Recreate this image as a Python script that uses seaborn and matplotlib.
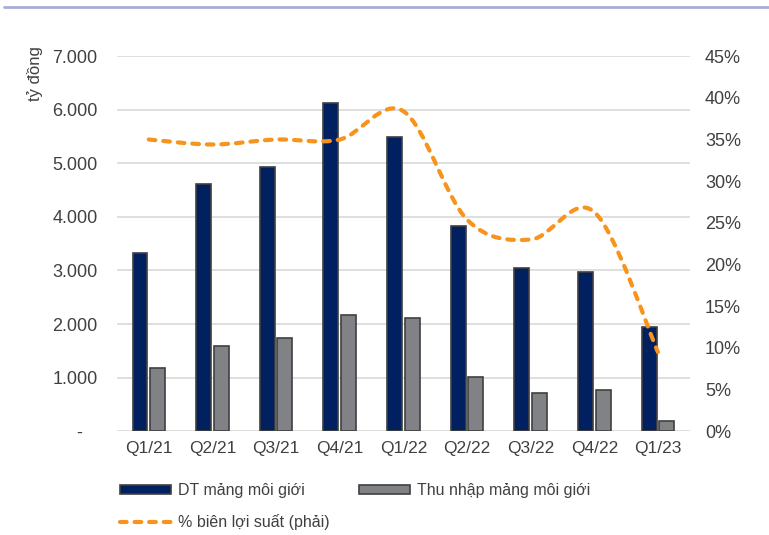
import numpy as np
import pandas as pd
import matplotlib
matplotlib.use('Agg')
import matplotlib.pyplot as plt
import seaborn as sns
from matplotlib.path import Path
from matplotlib.patches import PathPatch, Patch
from matplotlib.lines import Line2D
from matplotlib.ticker import FuncFormatter, MultipleLocator

# --- Data ---
QUARTERS = ["Q1/21", "Q2/21", "Q3/21", "Q4/21", "Q1/22", "Q2/22", "Q3/22", "Q4/22", "Q1/23"]
REVENUE = [3320, 4610, 4930, 6120, 5490, 3830, 3040, 2970, 1940]      # DT mảng môi giới
INCOME = [1180, 1590, 1740, 2170, 2110, 1010, 710, 770, 190]          # Thu nhập mảng môi giới
MARGIN = [35.0, 34.4, 35.0, 35.0, 38.4, 25.4, 23.0, 26.3, 9.5]       # % biên lợi suất (phải)

SERIES_NAMES = ["DT mảng môi giới", "Thu nhập mảng môi giới"]
LINE_NAME = "% biên lợi suất (phải)"

NAVY = "#002060"
GREY = "#808285"
EDGE = "#404040"
ORANGE = "#f7941d"
TEXT = "#404040"
GRID = "#d9d9d9"

sns.set_theme(style="white")
plt.rcParams['font.family'] = ['Liberation Sans', 'DejaVu Sans']

df = pd.DataFrame({
    "quarter": QUARTERS * 2,
    "value": REVENUE + INCOME,
    "series": [SERIES_NAMES[0]] * len(QUARTERS) + [SERIES_NAMES[1]] * len(QUARTERS),
})

fig = plt.figure(figsize=(7.69, 5.35), dpi=100)
ax = fig.add_axes([0.152, 0.194, 0.745, 0.701])

sns.barplot(data=df, x="quarter", y="value", hue="series", order=QUARTERS,
            palette=[NAVY, GREY], saturation=1, width=0.55, gap=0.15,
            edgecolor=EDGE, linewidth=1.2, ax=ax, legend=False, zorder=3)

ax.set_xlim(-0.5, len(QUARTERS) - 0.5)
ax.set_ylim(0, 7000)
ax.yaxis.set_major_locator(MultipleLocator(1000))
ax.yaxis.set_major_formatter(FuncFormatter(
    lambda v, p: "-   " if v == 0 else f"{int(v):,}".replace(",", ".")))
ax.grid(axis="y", color=GRID, linewidth=1.2, zorder=0)
ax.set_axisbelow(True)
for s in ax.spines.values():
    s.set_visible(False)
ax.set_xlabel("")
ax.set_ylabel("")
ax.tick_params(axis="y", length=0, pad=14, labelsize=13, labelcolor=TEXT)
ax.tick_params(axis="x", length=0, pad=7, labelsize=12.5, labelcolor=TEXT)

# --- Right axis: smoothed dashed line ---
ax2 = ax.twinx()
ax2.set_ylim(0, 45)
ax2.yaxis.set_major_locator(MultipleLocator(5))
ax2.yaxis.set_major_formatter(FuncFormatter(lambda v, p: f"{int(v)}%"))
ax2.tick_params(axis="y", length=0, pad=11, labelsize=13, labelcolor=TEXT)
for s in ax2.spines.values():
    s.set_visible(False)
ax2.grid(False)

# Excel-like smoothing: cubic Bezier segments through the data points
xs = np.arange(len(MARGIN), dtype=float)
ys = np.array(MARGIN, dtype=float)
verts = [(xs[0], ys[0])]
codes = [Path.MOVETO]
for i in range(len(xs) - 1):
    p0 = i - 1 if i > 0 else i
    p3 = i + 2 if i + 2 < len(xs) else i + 1
    c1 = (xs[i] + (xs[i + 1] - xs[p0]) / 6, ys[i] + (ys[i + 1] - ys[p0]) / 6)
    c2 = (xs[i + 1] - (xs[p3] - xs[i]) / 6, ys[i + 1] - (ys[p3] - ys[i]) / 6)
    verts += [c1, c2, (xs[i + 1], ys[i + 1])]
    codes += [Path.CURVE4] * 3
curve = PathPatch(Path(verts, codes), facecolor="none", edgecolor=ORANGE,
                  linewidth=3, linestyle=(0, (1.6, 1.9)), capstyle="round", zorder=4)
ax2.add_patch(curve)

# --- Unit label and top rule ---
fig.text(0.046, 0.913, "tỷ đồng", rotation=90, ha="center", va="top",
         fontsize=12, color=TEXT)
fig.add_artist(Line2D([0.005, 1.0], [0.986, 0.986], color="#a9acd8", linewidth=2))

# --- Legend ---
handles = [
    Patch(facecolor=NAVY, edgecolor=EDGE, linewidth=1.2),
    Line2D([0], [0], color=ORANGE, linewidth=3, linestyle=(0, (1.6, 1.9)),
           dash_capstyle="round"),
    Patch(facecolor=GREY, edgecolor=EDGE, linewidth=1.2),
]
labels = [SERIES_NAMES[0], LINE_NAME, SERIES_NAMES[1]]
fig.legend(handles, labels, loc="upper left", bbox_to_anchor=(0.156, 0.097),
           ncol=2, frameon=False, fontsize=11.5, labelcolor=TEXT,
           handlelength=3.2, handleheight=0.5, handletextpad=0.45,
           columnspacing=1.8, labelspacing=1.0, borderpad=0, borderaxespad=0)

fig.savefig("out.png", dpi=100)
